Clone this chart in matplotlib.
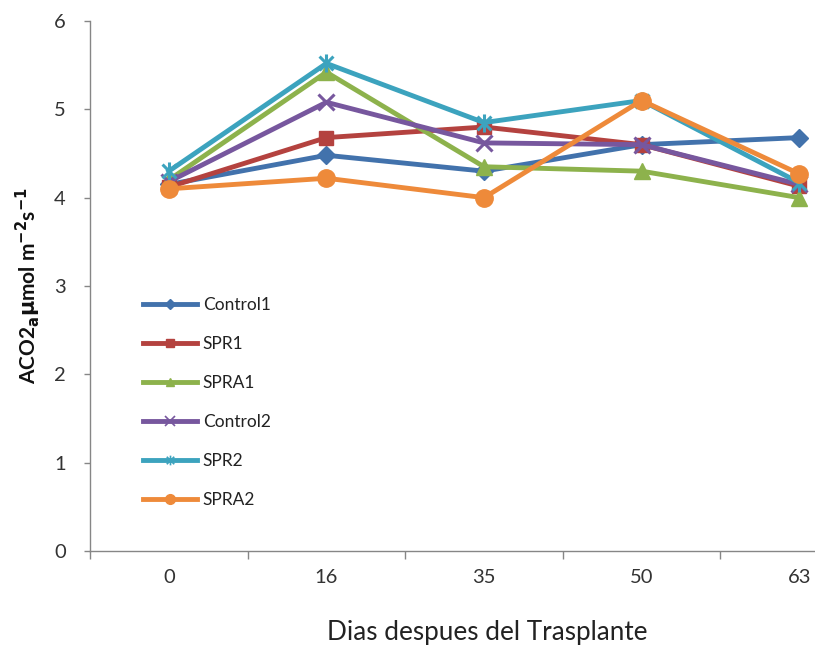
import matplotlib
matplotlib.use("Agg")
import matplotlib.pyplot as plt
from matplotlib.path import Path
from matplotlib.lines import Line2D

plt.rcParams['font.family'] = ['Lato', 'DejaVu Sans']

days = ["0", "16", "35", "50", "63"]
series_names = ["Control1", "SPR1", "SPRA1", "Control2", "SPR2", "SPRA2"]
control1 = [4.15, 4.48, 4.30, 4.60, 4.68]
spr1 = [4.12, 4.68, 4.80, 4.60, 4.13]
spra1 = [4.20, 5.42, 4.35, 4.30, 4.00]
control2 = [4.18, 5.08, 4.62, 4.60, 4.15]
spr2 = [4.30, 5.52, 4.85, 5.10, 4.17]
spra2 = [4.10, 4.22, 4.00, 5.10, 4.27]
all_values = [control1, spr1, spra1, control2, spr2, spra2]

colors = ["#4272AC", "#B4423F", "#8DB24C", "#77579E", "#3CA3BE", "#EE8A3A"]
star = Path([(-1, -1), (1, 1), (-1, 1), (1, -1), (0, -1.3), (0, 1.3)],
            [Path.MOVETO, Path.LINETO, Path.MOVETO, Path.LINETO, Path.MOVETO, Path.LINETO])
markers = ["D", "s", "^", "x", star, "o"]
msizes = [9, 10.5, 11, 11, 13, 12.5]
lmsizes = [5, 6, 6, 7, 7, 7]

fig = plt.figure(figsize=(8.15, 6.49), dpi=100)
ax = fig.add_axes([90/815, 1-551/649, 788/815, 530/649])

x = list(range(len(days)))
for vals, name, c, m, ms in zip(all_values, series_names, colors, markers, msizes):
    mew = 2.2 if m in ("x",) or m is star else 1
    ax.plot(x, vals, color=c, lw=3.5, marker=m, ms=ms, mfc=c, mec=c, mew=mew,
            label=name, solid_joinstyle='round')

ax.set_xlim(-0.5, 4.5)
ax.set_ylim(0, 6)
ax.set_yticks(range(0, 7))
ax.set_xticks(x)
ax.set_xticklabels(days)
ax.set_xticks([i - 0.5 for i in range(len(days) + 1)], minor=True)
ax.tick_params(axis='x', which='major', length=0, pad=13, labelsize=14.5, colors='#333333')
ax.tick_params(axis='x', which='minor', length=6, width=1, color='#868686', direction='out')
ax.tick_params(axis='y', length=4.5, width=1, color='#868686', pad=13, labelsize=14.5, labelcolor='#333333')
for s in ['top', 'right']:
    ax.spines[s].set_visible(False)
for s in ['left', 'bottom']:
    ax.spines[s].set_color('#868686')
    ax.spines[s].set_linewidth(1)

ax.set_xlabel("Dias despues del Trasplante", fontsize=18.8, color='#222222')
ax.xaxis.set_label_coords((487-90)/788, -(620-551)/530, transform=ax.transAxes)
fig.text(28/815, 1-286/649, r'ACO2$_{\mathbf{a}}$$\mathbf{\mu}$mol m$^{\mathbf{-2}}$s$^{\mathbf{-1}}$',
         rotation=90, ha='center', va='center', fontsize=15, fontweight='bold', color='#111111')

handles = [Line2D([0], [0], color=c, lw=3.5, marker=m, ms=lms, mfc=c, mec=c,
                  mew=(1.2 if (m == 'x' or m is star) else 1))
           for c, m, lms in zip(colors, markers, lmsizes)]
fig.legend(handles, series_names, loc='upper left', bbox_to_anchor=(143/815, 1-297/649),
           frameon=False, fontsize=12.5, handlelength=3.1, handletextpad=0.35,
           labelspacing=1.32, borderpad=0, borderaxespad=0, labelcolor='#222222')

fig.savefig("out.png", dpi=100, facecolor='white')
